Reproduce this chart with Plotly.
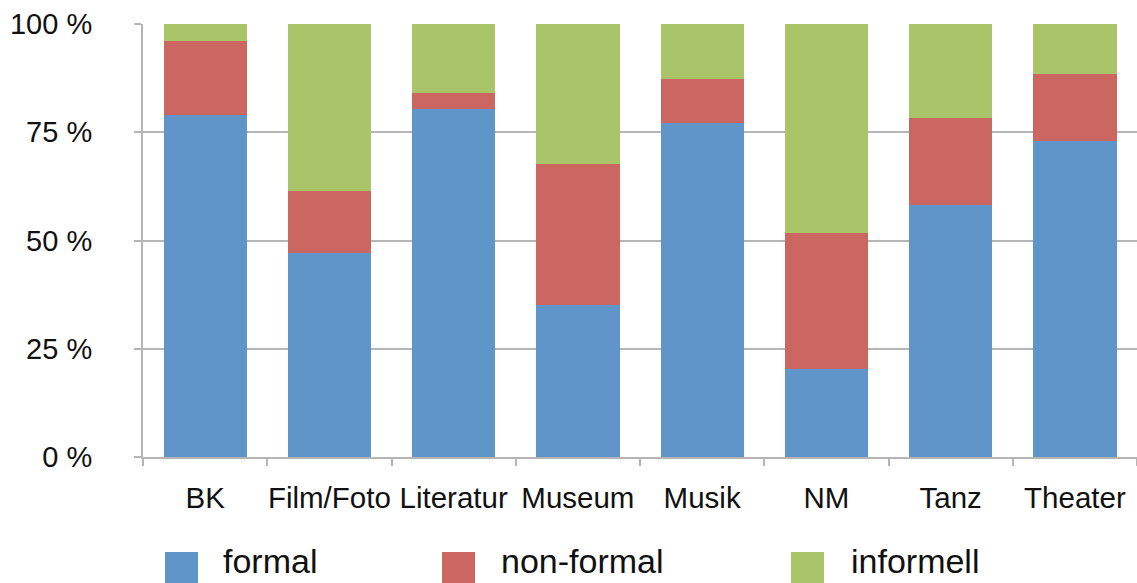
import plotly.graph_objects as go

# Share of learning settings per art field (percent)
categories = ["BK", "Film/Foto", "Literatur", "Museum", "Musik", "NM", "Tanz", "Theater"]
formal = [79.0, 47.1, 80.4, 35.1, 77.1, 20.3, 58.2, 73.0]
non_formal = [17.1, 14.3, 3.7, 32.6, 10.2, 31.4, 20.1, 15.5]
informell = [3.9, 38.6, 15.9, 32.3, 12.7, 48.3, 21.7, 11.5]

series_names = ["formal", "non-formal", "informell"]
series_colors = ["#5f95c8", "#cc6660", "#aac46a"]
y_ticks = [0, 25, 50, 75, 100]
y_labels = [f"{v} %" for v in y_ticks]

W, H = 1137, 583
L, R, T, B = 143, 0, 24, 126
PW, PH = W - L - R, H - T - B

FONT = "Liberation Sans, Arial, Helvetica, sans-serif"
GRID = "#b5b5b5"

fig = go.Figure()
for name, vals, col in zip(series_names, [formal, non_formal, informell], series_colors):
    fig.add_trace(go.Bar(
        x=categories, y=vals, name=name,
        marker=dict(color=col, line=dict(width=0)),
        showlegend=False,
    ))


def px_x(px):
    return (px - L) / PW


def px_y(py):
    return (H - B - py) / PH


# Legend drawn below the plot: square swatch + label
legend_items = [(165, 221), (442, 499), (791, 849)]
shapes = []
annotations = []
for (sx, tx), name, col in zip(legend_items, series_names, series_colors):
    shapes.append(dict(
        type="rect", xref="paper", yref="paper",
        x0=px_x(sx), x1=px_x(sx + 33), y0=px_y(552), y1=px_y(585),
        fillcolor=col, line=dict(width=0), layer="above",
    ))
    annotations.append(dict(
        text=name, xref="paper", yref="paper",
        x=px_x(tx), y=px_y(561), xanchor="left", yanchor="middle",
        showarrow=False, font=dict(family=FONT, size=34, color="#111111"),
    ))

fig.update_layout(
    width=W, height=H,
    margin=dict(l=L, r=R, t=T, b=B, pad=0, autoexpand=False),
    barmode="stack",
    bargap=0.33,
    plot_bgcolor="white",
    paper_bgcolor="white",
    font=dict(family=FONT, size=29, color="#111111"),
    shapes=shapes,
    annotations=annotations,
    xaxis=dict(
        automargin=False, tickangle=0,
        showline=True, linecolor=GRID, linewidth=2,
        ticks="outside", tickson="boundaries", ticklen=7, tickwidth=2, tickcolor=GRID,
        showgrid=False, ticklabelstandoff=14,
        tickfont=dict(family=FONT, size=29.5, color="#111111"),
    ),
    yaxis=dict(
        automargin=False,
        range=[0, 100], tickmode="array", tickvals=y_ticks, ticktext=y_labels,
        showline=True, linecolor=GRID, linewidth=2,
        showgrid=True, gridcolor=GRID, gridwidth=2,
        ticks="outside", ticklen=7, tickwidth=2, tickcolor=GRID,
        zeroline=False, ticklabelstandoff=36,
        tickfont=dict(family=FONT, size=29, color="#111111"),
    ),
)

fig.write_html("out.html")
